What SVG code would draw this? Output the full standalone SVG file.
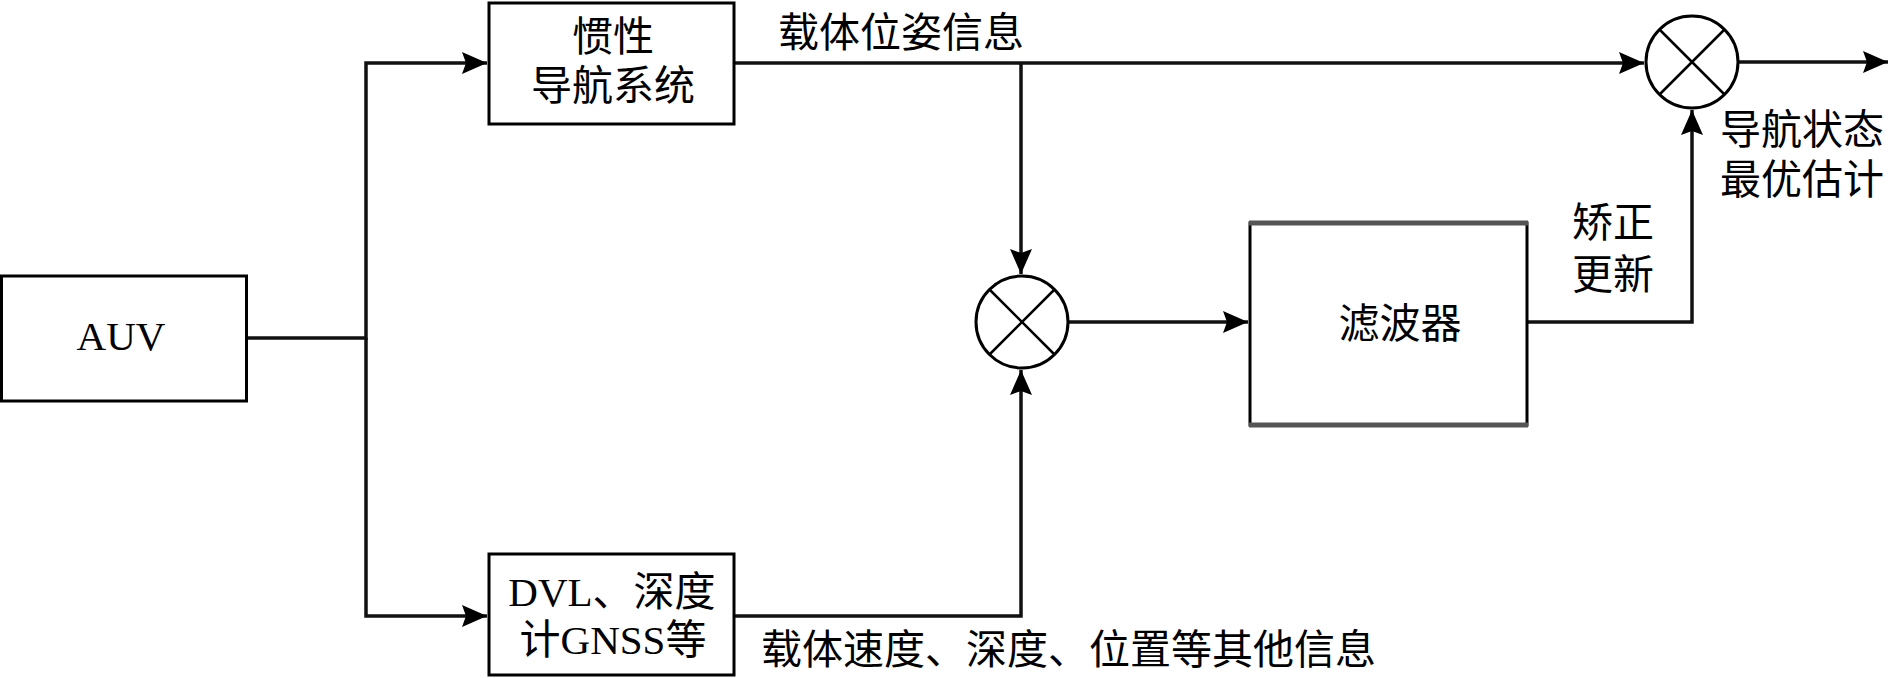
<svg xmlns="http://www.w3.org/2000/svg" width="1890" height="678" viewBox="0 0 1890 678">
<style>
.box{fill:#fff;stroke:#000;stroke-width:3}
.sum{fill:#fff;stroke:#000;stroke-width:3}
.x{stroke:#000;stroke-width:2.5}
.c{fill:none;stroke:#111;stroke-width:3.5}
.t{font-family:"Liberation Serif","Noto Sans CJK SC",serif;font-size:41px;fill:#000}
.m{text-anchor:middle}
</style>
<defs>
<marker id="ah" markerUnits="userSpaceOnUse" markerWidth="26" markerHeight="22" refX="25" refY="11" orient="auto">
<path d="M0,0 L25,11 L0,22 L4,11 z" fill="#000"/>
</marker>
</defs>
<rect width="1890" height="678" fill="#fff"/>
<g id="connectors">
<path class="c" d="M246,338 H366 V63 H487" marker-end="url(#ah)"/>
<path class="c" d="M366,338 V616 H487" marker-end="url(#ah)"/>
<path class="c" d="M734,63 H1644" marker-end="url(#ah)"/>
<path class="c" d="M1021,63 V274" marker-end="url(#ah)"/>
<path class="c" d="M734,616 H1021 V370" marker-end="url(#ah)"/>
<path class="c" d="M1069,322 H1248" marker-end="url(#ah)"/>
<path class="c" d="M1527,322 H1692 V110" marker-end="url(#ah)"/>
<path class="c" d="M1739,62 H1888" marker-end="url(#ah)"/>
</g>
<g id="auv">
<rect class="box" x="1.5" y="276" width="245" height="125"/>
<text class="t m" x="121" y="350" font-size="42">AUV</text>
</g>
<g id="ins">
<rect class="box" x="489" y="3" width="245" height="121"/>
<text class="t m" x="613" y="51">惯性</text>
<text class="t m" x="613" y="100">导航系统</text>
</g>
<g id="dvl">
<rect class="box" x="489" y="554" width="245" height="121"/>
<text class="t m" x="612" y="606">DVL、深度</text>
<text class="t m" x="613" y="654">计GNSS等</text>
</g>
<g id="sum1">
<circle class="sum" cx="1022" cy="322" r="46"/>
<path class="x" d="M989.5,289.5 L1054.5,354.5 M1054.5,289.5 L989.5,354.5"/>
</g>
<g id="sum2">
<circle class="sum" cx="1692" cy="62" r="46"/>
<path class="x" d="M1659.5,29.5 L1724.5,94.5 M1724.5,29.5 L1659.5,94.5"/>
</g>
<g id="filter">
<rect class="box" x="1250" y="223" width="277" height="202"/>
<line x1="1249" y1="223" x2="1528" y2="223" stroke="#555" stroke-width="5"/>
<line x1="1249" y1="425" x2="1528" y2="425" stroke="#555" stroke-width="5"/>
<text class="t m" x="1400" y="338">滤波器</text>
</g>
<g id="labels">
<text class="t" x="778" y="47">载体位姿信息</text>
<text class="t" x="1720" y="144">导航状态</text>
<text class="t" x="1720" y="194">最优估计</text>
<text class="t" x="1572" y="237">矫正</text>
<text class="t" x="1572" y="289">更新</text>
<text class="t" x="761" y="664">载体速度、深度、位置等其他信息</text>
</g>
</svg>
